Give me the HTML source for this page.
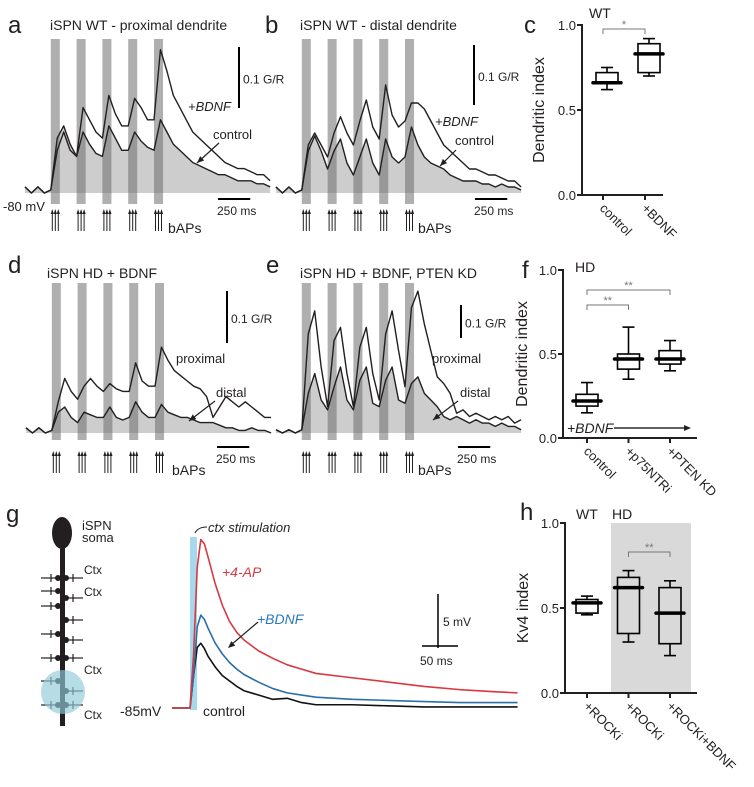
<!DOCTYPE html>
<html><head><meta charset="utf-8"><style>
html,body{margin:0;padding:0;background:#fff}
svg{display:block;font-family:"Liberation Sans",sans-serif}
</style></head><body>
<svg id="fig" width="754" height="787" viewBox="0 0 754 787" xmlns="http://www.w3.org/2000/svg">
<g id="static" fill="#231f20">
<text x="8" y="33" font-size="24">a</text>
<text x="50" y="30" font-size="14">iSPN WT - proximal dendrite</text>
<text x="265" y="33" font-size="24">b</text>
<text x="300" y="30" font-size="14">iSPN WT - distal dendrite</text>
<text x="524" y="33" font-size="24">c</text>
<text x="8" y="273" font-size="24">d</text>
<text x="47" y="278" font-size="14">iSPN HD + BDNF</text>
<text x="266" y="273" font-size="24">e</text>
<text x="300" y="278" font-size="14">iSPN HD + BDNF, PTEN KD</text>
<text x="522" y="278" font-size="24">f</text>
<text x="6" y="522" font-size="24">g</text>
<text x="520" y="520" font-size="24">h</text>
</g>
<g id="dyn"></g>
</svg>
<script>
// ---------- data ----------
const stimTimes = [200, 400, 600, 800, 1000];
const traceTimes = [0,50,100,150,200,250,300,350,400,450,500,550,600,650,700,750,800,850,900,950,1000,1050,1100,1150,1200,1250,1300,1350,1400,1450,1500,1550,1600,1650,1700,1750,1800,1850,1900];
const aControl = [0.01,0,0.01,0,0.005,0.09,0.11,0.08,0.06,0.1,0.08,0.065,0.06,0.11,0.09,0.07,0.07,0.1,0.085,0.075,0.07,0.12,0.1,0.08,0.07,0.06,0.05,0.045,0.04,0.035,0.03,0.03,0.025,0.02,0.02,0.02,0.015,0.015,0.01];
const aBDNF = [0.01,0,0.01,0,0.005,0.07,0.1,0.07,0.06,0.14,0.12,0.1,0.09,0.16,0.13,0.11,0.11,0.155,0.14,0.12,0.12,0.235,0.2,0.16,0.14,0.12,0.1,0.09,0.08,0.07,0.06,0.05,0.045,0.04,0.04,0.035,0.03,0.03,0.02];
const bControl = [0.01,0,0.01,0,0.005,0.07,0.095,0.07,0.04,0.07,0.09,0.05,0.03,0.06,0.09,0.05,0.03,0.09,0.06,0.05,0.06,0.11,0.08,0.06,0.05,0.045,0.04,0.03,0.025,0.02,0.02,0.02,0.015,0.015,0.01,0.015,0.01,0.01,0.005];
const bBDNF = [0.01,0,0.01,0,0.005,0.08,0.1,0.08,0.06,0.1,0.127,0.1,0.08,0.12,0.155,0.11,0.09,0.18,0.13,0.11,0.12,0.15,0.15,0.14,0.12,0.1,0.08,0.07,0.06,0.05,0.04,0.04,0.035,0.03,0.03,0.025,0.02,0.02,0.01];
const dProximal = [0.01,0,0.01,0,0.005,0.06,0.105,0.08,0.065,0.09,0.105,0.09,0.08,0.095,0.085,0.08,0.08,0.135,0.1,0.09,0.09,0.165,0.14,0.12,0.11,0.1,0.09,0.085,0.07,0.03,0.05,0.07,0.06,0.05,0.06,0.05,0.04,0.03,0.03];
const dDistal = [0.01,0,0.01,0,0.005,0.04,0.05,0.03,0.02,0.04,0.035,0.03,0.03,0.05,0.03,0.025,0.03,0.06,0.04,0.03,0.03,0.055,0.04,0.035,0.03,0.03,0.025,0.02,0.02,0.02,0.015,0.01,0.01,0.005,0.005,0.01,0.005,0.005,0];
const eProximal = [0.01,0,0.01,0,0.01,0.3,0.37,0.2,0.08,0.28,0.32,0.18,0.08,0.26,0.32,0.18,0.1,0.3,0.37,0.25,0.14,0.38,0.43,0.33,0.25,0.17,0.15,0.12,0.06,0.07,0.05,0.06,0.05,0.04,0.05,0.04,0.05,0.03,0.04];
const eDistal = [0.01,0,0.01,0,0.01,0.12,0.18,0.1,0.07,0.14,0.2,0.1,0.07,0.16,0.2,0.09,0.08,0.16,0.2,0.1,0.09,0.15,0.17,0.12,0.1,0.08,0.05,0.04,0.05,0.04,0.03,0.04,0.03,0.03,0.02,0.03,0.02,0.02,0.01];

const epspTimes = [0,25,30,35,40,45,50,60,70,80,90,100,120,140,160,180,200,250,300,350,400,450,480];
const epspAP = [0,0,5,13,15.6,15.2,14,11.5,9.5,8,7,6.3,5.3,4.6,4,3.6,3.2,2.8,2.4,2.0,1.7,1.5,1.4];
const epspBDNF = [0,0,3,7.5,8.6,8.2,7.4,6,5,4.2,3.6,3.1,2.4,1.8,1.4,1.2,1.0,0.8,0.7,0.6,0.5,0.5,0.5];
const epspControl = [0,0,3,5.6,6,5.5,4.8,3.8,3,2.5,2.0,1.6,1.2,0.8,0.9,0.5,0.3,0.3,0.2,0.1,0.1,0.1,0.1];

const cCats = ["control", "+BDNF"];
const cStats = [[0.62,0.66,0.66,0.72,0.75],[0.70,0.72,0.83,0.89,0.92]];
const fCats = ["control", "+p75NTRi", "+PTEN KD"];
const fStats = [[0.15,0.19,0.22,0.26,0.33],[0.35,0.41,0.47,0.50,0.66],[0.40,0.44,0.47,0.52,0.58]];
const hCats = ["+ROCKi", "+ROCKi", "+ROCKi+BDNF"];
const hStats = [[0.46,0.47,0.53,0.55,0.57],[0.30,0.35,0.62,0.68,0.72],[0.22,0.29,0.47,0.62,0.66]];
const yTicks = [0, 0.5, 1.0];
const yTickLabels = ["0.0", "0.5", "1.0"];

// ---------- helpers ----------
const NS = "http://www.w3.org/2000/svg";
const root = document.getElementById("dyn");
function mk(tag, attrs, parent) {
  const e = document.createElementNS(NS, tag);
  for (const k in attrs) e.setAttribute(k, attrs[k]);
  (parent || root).appendChild(e);
  return e;
}
function txt(x, y, s, size, extra, parent) {
  const t = mk("text", Object.assign({x: x, y: y, "font-size": size, fill: "#231f20"}, extra || {}), parent);
  t.textContent = s;
  return t;
}
function arrowHead(x1, y1, x2, y2, g, col) {
  const a = Math.atan2(y2 - y1, x2 - x1), L = 7, W = 3;
  const p = [x2, y2, x2 - L*Math.cos(a) + W*Math.sin(a), y2 - L*Math.sin(a) - W*Math.cos(a), x2 - L*Math.cos(a) - W*Math.sin(a), y2 - L*Math.sin(a) + W*Math.cos(a)];
  mk("polygon", {points: p.join(","), fill: col || "#231f20"}, g);
}

// ---------- calcium trace panels ----------
function tracePanel(cfg) {
  const g = mk("g", {});
  
  
  const k = 0.129;
  const X = t => cfg.x0 + t * k;
  const Y = v => cfg.base - v * cfg.pxPer01 * 10;
  let pts = cfg.fill.map((v, i) => X(traceTimes[i]) + "," + Y(v));
  const fp = mk("polygon", {points: pts.join(" ") + " " + X(traceTimes[traceTimes.length-1]) + "," + cfg.base + " " + X(traceTimes[0]) + "," + cfg.base, fill: "#cdcdcd"}, g);
  
  
  stimTimes.forEach(s => {
    const r = mk("rect", {x: X(s), y: cfg.barTop, width: 70*k, height: cfg.barBot - cfg.barTop, fill: "#6e6e6e", "fill-opacity": 0.55}, g);
    
    
    for (let j = 0; j < 3; j++) {
      const ax = X(s) + 1.5 + j * 3;
      mk("line", {x1: ax, y1: cfg.arrowY + 22, x2: ax, y2: cfg.arrowY + 3, stroke: "#231f20", "stroke-width": 1}, g);
      mk("polygon", {points: (ax-1.6)+","+(cfg.arrowY+5)+" "+ax+","+cfg.arrowY+" "+(ax+1.6)+","+(cfg.arrowY+5), fill: "#231f20"}, g);
    }
  });
  cfg.lines.forEach(arr => {
    const p = mk("polyline", {points: arr.vals.map((v, i) => X(traceTimes[i]) + "," + Y(v)).join(" "), fill: "none", stroke: "#231f20", "stroke-width": 1.4, "stroke-linejoin": "round"}, g);
    
    
  });
  mk("line", {x1: cfg.sx, y1: cfg.sy, x2: cfg.sx, y2: cfg.sy + cfg.pxPer01, stroke: "#000", "stroke-width": 2}, g);
  txt(cfg.sx + 4, cfg.sy + cfg.pxPer01/2 + 6, "0.1 G/R", 12, {}, g);
  mk("line", {x1: cfg.tx, y1: cfg.ty, x2: cfg.tx + 250*k, y2: cfg.ty, stroke: "#000", "stroke-width": 2}, g);
  txt(cfg.tx - 1, cfg.ty + 16, "250 ms", 12, {}, g);
  txt(cfg.bapsX, cfg.arrowY + 24, "bAPs", 14, {}, g);
  cfg.labels.forEach(l => {
    txt(l[0], l[1], l[2], 13, l[3] ? {"font-style": "italic"} : {}, g);
  });
  mk("line", {x1: cfg.arr[0], y1: cfg.arr[1], x2: cfg.arr[2], y2: cfg.arr[3], stroke: "#231f20", "stroke-width": 1.2}, g);
  arrowHead(cfg.arr[0], cfg.arr[1], cfg.arr[2], cfg.arr[3], g);
  if (cfg.mv) txt(3, cfg.base + 18, cfg.mv, 13, {}, g);
}

tracePanel({name: "panel-a-traces", x0: 25, base: 193, pxPer01: 61, barTop: 39, barBot: 204, arrowY: 209, fill: aControl,
  lines: [{name: "trace-a-control", vals: aControl}, {name: "trace-a-bdnf", vals: aBDNF}],
  sx: 239, sy: 47, tx: 218, ty: 199, bapsX: 168,
  labels: [[188, 111, "+BDNF", true], [213, 139, "control", false]], arr: [219, 143, 197, 163], mv: "-80 mV"});
tracePanel({name: "panel-b-traces", x0: 276, base: 193, pxPer01: 60, barTop: 39, barBot: 204, arrowY: 209, fill: bControl,
  lines: [{name: "trace-b-control", vals: bControl}, {name: "trace-b-bdnf", vals: bBDNF}],
  sx: 474, sy: 45, tx: 475, ty: 199, bapsX: 418,
  labels: [[435, 126, "+BDNF", true], [455, 145, "control", false]], arr: [456, 150, 440, 166], mv: null});
tracePanel({name: "panel-d-traces", x0: 26, base: 433, pxPer01: 52, barTop: 283, barBot: 440, arrowY: 451, fill: dDistal,
  lines: [{name: "trace-d-distal", vals: dDistal}, {name: "trace-d-proximal", vals: dProximal}],
  sx: 227, sy: 291, tx: 217, ty: 447, bapsX: 172,
  labels: [[176, 363, "proximal", false], [216, 397, "distal", false]], arr: [215, 401, 189, 421], mv: null});
tracePanel({name: "panel-e-traces", x0: 276, base: 433, pxPer01: 33, barTop: 283, barBot: 440, arrowY: 451, fill: eDistal,
  lines: [{name: "trace-e-distal", vals: eDistal}, {name: "trace-e-proximal", vals: eProximal}],
  sx: 461, sy: 305, tx: 458, ty: 447, bapsX: 418,
  labels: [[432, 363, "proximal", false], [460, 397, "distal", false]], arr: [458, 401, 433, 420], mv: null});

// ---------- box plots ----------
function boxPanel(cfg) {
  const g = mk("g", {});
  
  
  const Y = v => cfg.y0 - v * cfg.scale;
  const X = i => cfg.cx0 + i * cfg.dx;
  if (cfg.shade) mk("rect", {x: cfg.shade[0], y: Y(1), width: cfg.shade[1] - cfg.shade[0], height: cfg.scale, fill: "#d9d9d9"}, g);
  mk("line", {x1: cfg.ax, y1: Y(1) - 1, x2: cfg.ax, y2: Y(0), stroke: "#231f20", "stroke-width": 2}, g);
  mk("line", {x1: cfg.ax, y1: Y(0), x2: cfg.axEnd, y2: Y(0), stroke: "#231f20", "stroke-width": 2}, g);
  yTicks.forEach((v, i) => {
    mk("line", {x1: cfg.ax - 5, y1: Y(v), x2: cfg.ax, y2: Y(v), stroke: "#231f20", "stroke-width": 2}, g);
    const t = txt(cfg.ax - 6, Y(v) + 5, yTickLabels[i], 13, {"text-anchor": "end"}, g);
    
    
  });
  const yl = txt(0, 0, cfg.ylabel, 16, {"text-anchor": "middle", transform: "translate(" + cfg.ylx + "," + Y(0.5) + ") rotate(-90)"}, g);
  
  
  cfg.stats.forEach((s, i) => {
    const x = X(i), hw = 11;
    mk("line", {x1: x, y1: Y(0), x2: x, y2: Y(0) + 5, stroke: "#231f20", "stroke-width": 2}, g);
    const tl = txt(0, 0, cfg.cats[i], 13, {transform: "translate(" + (x - 4) + "," + (Y(0) + 14) + ") rotate(45)"}, g);
    
    
    const bx = mk("g", {}, g);
    
    
    const cx = x + (cfg.boxOff || 0);
    mk("line", {x1: cx, y1: Y(s[4]), x2: cx, y2: Y(s[3]), stroke: "#000", "stroke-width": 1.6}, bx);
    mk("line", {x1: cx, y1: Y(s[1]), x2: cx, y2: Y(s[0]), stroke: "#000", "stroke-width": 1.6}, bx);
    mk("line", {x1: cx - 6, y1: Y(s[4]), x2: cx + 6, y2: Y(s[4]), stroke: "#000", "stroke-width": 1.6}, bx);
    mk("line", {x1: cx - 6, y1: Y(s[0]), x2: cx + 6, y2: Y(s[0]), stroke: "#000", "stroke-width": 1.6}, bx);
    mk("rect", {x: cx - hw, y: Y(s[3]), width: 2*hw, height: Y(s[1]) - Y(s[3]), fill: "none", stroke: "#000", "stroke-width": 1.6}, bx);
    mk("line", {x1: cx - hw - 3, y1: Y(s[2]), x2: cx + hw + 3, y2: Y(s[2]), stroke: "#000", "stroke-width": 3.5, "stroke-linecap": "round"}, bx);
  });
  cfg.brackets.forEach(b => {
    const x1 = X(b[0]), x2 = X(b[1]);
    mk("polyline", {points: x1 + "," + (b[2] + 5) + " " + x1 + "," + b[2] + " " + x2 + "," + b[2] + " " + x2 + "," + (b[2] + 5), fill: "none", stroke: "#777", "stroke-width": 1}, g);
    txt((x1 + x2) / 2, b[2] - 1, b[3], 11, {"text-anchor": "middle", fill: "#777"}, g);
  });
  (cfg.notes || []).forEach(n => txt(n[0], n[1], n[2], 14, n[3] ? {"font-style": "italic"} : {}, g));
  return g;
}
boxPanel({name: "panel-c-boxplot", y0: 195, scale: 170, ax: 582, axEnd: 663, cx0: 603, dx: 42, boxOff: 4, ylx: 544, ylabel: "Dendritic index",
  cats: cCats, stats: cStats, brackets: [[0, 1, 29, "*"]], notes: [[589, 18, "WT"]]});
const gf = boxPanel({name: "panel-f-boxplot", y0: 438, scale: 168, ax: 563, axEnd: 697, cx0: 587, dx: 41.5, boxOff: 0, ylx: 527, ylabel: "Dendritic index",
  cats: fCats, stats: fStats, brackets: [[0, 2, 290, "**"], [0, 1, 305, "**"]], notes: [[575, 272, "HD"], [567, 433, "+BDNF", true]]});
mk("line", {x1: 614, y1: 428, x2: 688, y2: 428, stroke: "#000", "stroke-width": 1.2}, gf);
arrowHead(614, 428, 691, 428, gf);
boxPanel({name: "panel-h-boxplot", y0: 693, scale: 170, ax: 565, axEnd: 697, cx0: 587, dx: 41.5, boxOff: 0, ylx: 528, ylabel: "Kv4 index", shade: [611, 691],
  cats: hCats, stats: hStats, brackets: [[1, 2, 552, "**"]], notes: [[576, 519, "WT"], [612, 519, "HD"]]});

// ---------- panel g ----------
const gg = mk("g", {});


mk("rect", {x: 60, y: 540, width: 5, height: 186, fill: "#231f20"}, gg);
mk("ellipse", {cx: 62, cy: 533, rx: 10, ry: 16, fill: "#231f20"}, gg);
txt(82, 530, "iSPN", 13, {}, gg);
txt(82, 542, "soma", 13, {}, gg);
const spines = [[578,-1],[578,1],[591,-1],[598,1],[606,-1],[620,1],[634,-1],[640,1],[658,-1],[658,1],[681,-1],[691,1],[705,-1],[705,1]];
spines.forEach(s => {
  const y = s[0], d = s[1];
  mk("circle", {cx: 62 + d*4, cy: y, r: 3, fill: "#231f20"}, gg);
  mk("line", {x1: 62 + d*4, y1: y, x2: 62 + d*11, y2: y, stroke: "#231f20", "stroke-width": 1.2}, gg);
  mk("line", {x1: 62 + d*11, y1: y - 4, x2: 62 + d*11, y2: y + 4, stroke: "#231f20", "stroke-width": 1.2}, gg);
  mk("line", {x1: 62 + d*11, y1: y, x2: 62 + d*21, y2: y, stroke: "#231f20", "stroke-width": 1.2}, gg);
});
mk("circle", {cx: 63, cy: 692, r: 22, fill: "#8fcbd8", "fill-opacity": 0.65}, gg);
[[84,574],[84,596],[84,674],[84,719]].forEach(p => txt(p[0], p[1], "Ctx", 12, {}, gg));
const gk = 36 / 50, gx0 = 172, gBase = 708, gmv = 54 / 5;
const GX = t => gx0 + t * gk, GY = v => gBase - v * gmv;
mk("rect", {x: 190, y: 537, width: 7, height: 173, fill: "#a6d9ee"}, gg);
[[epspControl, "#111", "epsp-control"], [epspBDNF, "#2a6fa8", "epsp-bdnf"], [epspAP, "#d8383f", "epsp-4ap"]].forEach(s => {
  const p = mk("polyline", {points: s[0].map((v, i) => GX(epspTimes[i]) + "," + GY(v)).join(" "), fill: "none", stroke: s[1], "stroke-width": 1.6, "stroke-linejoin": "round"}, gg);
  
  
});
txt(208, 532, "ctx stimulation", 13, {"font-style": "italic"}, gg);
mk("path", {d: "M207,527 Q198,527 195,533", fill: "none", stroke: "#231f20", "stroke-width": 1}, gg);
txt(222, 577, "+4-AP", 14, {"font-style": "italic", fill: "#d8383f"}, gg);
txt(257, 624, "+BDNF", 14, {"font-style": "italic", fill: "#2a7ab8"}, gg);
mk("line", {x1: 258, y1: 622, x2: 231, y2: 645, stroke: "#231f20", "stroke-width": 1.2}, gg);
arrowHead(258, 622, 228, 648, gg);
txt(203, 716, "control", 14, {}, gg);
txt(120, 716, "-85mV", 14, {}, gg);
mk("line", {x1: 438, y1: 594, x2: 438, y2: 648, stroke: "#000", "stroke-width": 1.5}, gg);
txt(443, 626, "5 mV", 12, {}, gg);
mk("line", {x1: 422, y1: 646, x2: 458, y2: 646, stroke: "#000", "stroke-width": 1.5}, gg);
txt(420, 665, "50 ms", 12, {}, gg);
</script>
</body></html>
